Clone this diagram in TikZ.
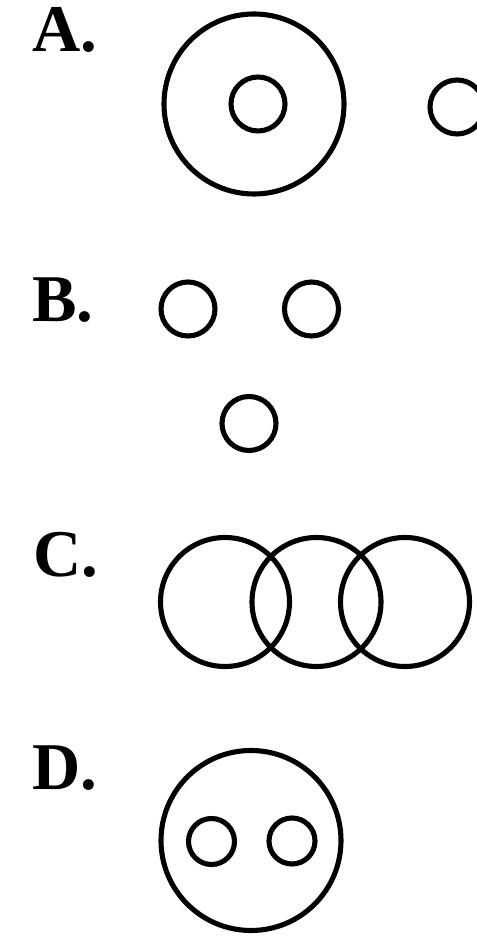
\documentclass[tikz,border=0pt]{standalone}
\usepackage{fontspec}
\setmainfont{Liberation Serif}
\usepackage{tikz}
\tikzset{
  ring/.style={draw=black, line width=2.9pt},
  partlabel/.style={font=\fontsize{38}{40}\selectfont\bfseries, inner sep=0pt, anchor=base west},
}

\begin{document}
\begin{tikzpicture}
\useasboundingbox (0,0) rectangle (9.52,18.88);
% A
\node[partlabel] (labA) at (0.640,17.840) {A.};
\draw[ring] (5.080,16.800) circle (1.800);
\draw[ring] (5.160,16.800) circle (0.540);
\draw[ring] (9.140,16.740) circle (0.540);
% B
\node[partlabel] (labB) at (0.640,12.440) {B.};
\draw[ring] (3.760,12.700) circle (0.540);
\draw[ring] (6.230,12.700) circle (0.540);
\draw[ring] (4.980,10.410) circle (0.540);
% C
\node[partlabel] (labC) at (0.660,7.340) {C.};
\draw[ring] (4.500,6.840) circle (1.290);
\draw[ring] (6.330,6.840) circle (1.290);
\draw[ring] (8.100,6.840) circle (1.290);
% D
\node[partlabel] (labD) at (0.640,3.080) {D.};
\draw[ring] (5.020,2.070) circle (1.800);
\draw[ring] (4.230,2.050) circle (0.460);
\draw[ring] (5.840,2.060) circle (0.460);
\end{tikzpicture}
\end{document}
